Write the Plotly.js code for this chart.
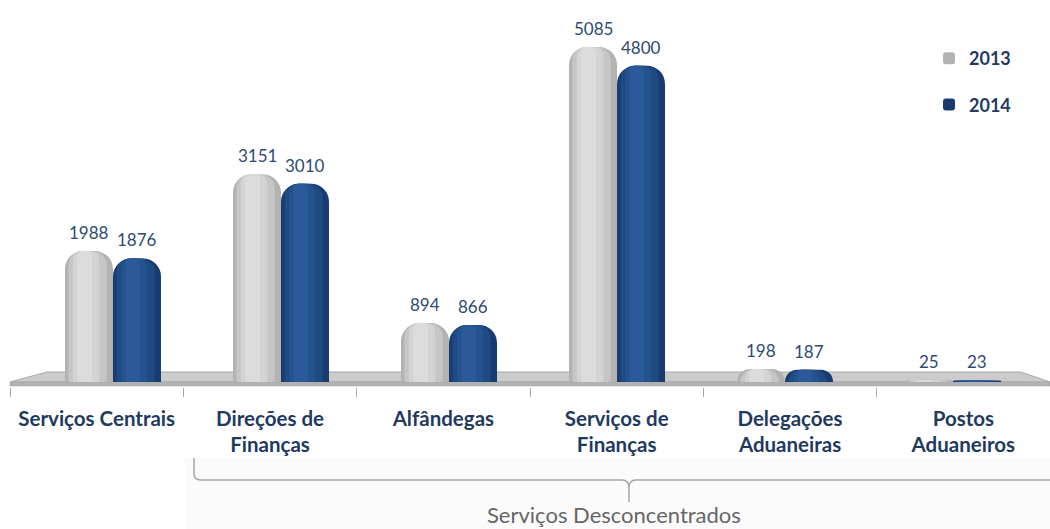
<!DOCTYPE html>
<html>
<head>
<meta charset="utf-8">
<script src="https://cdn.plot.ly/plotly-3.0.1.min.js"></script>
<style>html,body{margin:0;padding:0;background:#fff;}#chart{width:1050px;height:529px;}</style>
</head>
<body>
<div id="chart"></div>
<script>
// ---- data ----
const categories = ["Serviços Centrais", "Direções de Finanças", "Alfândegas", "Serviços de Finanças", "Delegações Aduaneiras", "Postos Aduaneiros"];
const tickLabels = ["Serviços Centrais", "Direções de<br>Finanças", "Alfândegas", "Serviços de<br>Finanças", "Delegações<br>Aduaneiras", "Postos<br>Aduaneiros"];
const series2013 = [1988, 3151, 894, 5085, 198, 25];
const series2014 = [1876, 3010, 866, 4800, 187, 23];
const seriesNames = ["2013", "2014"];
const groupLabel = "Serviços Desconcentrados";

// ---- styling ----
const FONT = "Lato, 'Open Sans', sans-serif";
const NAVY = "#1f3a60";
const BW = 0.2857; // bar width in category units
const shades2013 = ["#b2b2b2", "#c6c6c6", "#d4d4d4", "#dcdcdc"];
const shades2014 = ["#183c6e", "#1f4a84", "#24528f", "#2a5a99"];

function cylinderTraces(values, name, offset, shades, showLeg) {
  const fr = [1, 0.8, 0.55, 0.3];
  const rad = [18, 14, 9, 5];
  return fr.map((f, k) => ({
    type: "bar",
    x: categories,
    y: values,
    xaxis: "x2",
    yaxis: "y",
    name: name,
    legendgroup: name,
    showlegend: showLeg && k === 0,
    offset: offset + BW * (1 - f) / 2 - BW * 0.03 * k,
    width: BW * f,
    marker: {color: shades[k], cornerradius: rad[k], line: {width: 0}},
    hoverinfo: "skip"
  }));
}

// invisible carrier so the category label axis is drawn
const labelCarrier = {
  type: "scatter", x: categories.map((c, i) => i), y: categories.map(() => 0),
  xaxis: "x", yaxis: "y", mode: "markers", marker: {opacity: 0, size: 1},
  showlegend: false, hoverinfo: "skip"
};

const traces = [
  labelCarrier,
  ...cylinderTraces(series2013, seriesNames[0], -BW, shades2013, true),
  ...cylinderTraces(series2014, seriesNames[1], 0, shades2014, true)
];

const valueAnnots = [];
categories.forEach((c, i) => {
  valueAnnots.push({xref: "x2", yref: "y", x: c, y: series2013[i], xshift: -BW * 168 / 2,
    text: String(series2013[i]), showarrow: false, yanchor: "bottom", yshift: 6,
    font: {family: FONT, size: 17, color: "#2e4a72"}});
  valueAnnots.push({xref: "x2", yref: "y", x: c, y: series2014[i], xshift: BW * 168 / 2,
    text: String(series2014[i]), showarrow: false, yanchor: "bottom", yshift: 6,
    font: {family: FONT, size: 17, color: "#2e4a72"}});
});

// paper helpers (plot area: x 10..1050, y 10..387 px)
const px = p => (p - 10) / 1040;
const py = p => (387 - p) / 377;

const shapes = [
  {type: "rect", xref: "paper", yref: "paper", x0: px(185), x1: px(1050), y0: py(458), y1: py(529),
    fillcolor: "#fbfbfb", line: {width: 0}, layer: "below"},
  {type: "path", xref: "paper", yref: "paper", layer: "below",
    path: `M ${px(47)} ${py(372)} L ${px(1021)} ${py(372)} L ${px(1050)} ${py(382)} L ${px(10)} ${py(382)} Z`,
    fillcolor: "#cbcbcb", line: {color: "#a9a9a9", width: 1}},
  {type: "rect", xref: "paper", yref: "paper", layer: "below",
    x0: px(10), x1: px(1050), y0: py(386), y1: py(382),
    fillcolor: "#b3b3b3", line: {color: "#a0a0a0", width: 0.5}},
  {type: "path", xref: "paper", yref: "paper",
    path: `M ${px(194)} ${py(458)} L ${px(194)} ${py(474)} Q ${px(194)} ${py(480)} ${px(201)} ${py(480)} ` +
          `L ${px(622)} ${py(480)} Q ${px(629)} ${py(480)} ${px(629)} ${py(488)} L ${px(629)} ${py(502)} ` +
          `M ${px(629)} ${py(488)} Q ${px(629)} ${py(480)} ${px(636)} ${py(480)} L ${px(1050)} ${py(480)}`,
    line: {color: "#a6a6a6", width: 1.5}}
];

const layout = {
  width: 1050, height: 529,
  margin: {l: 10, r: 0, t: 10, b: 142},
  paper_bgcolor: "#ffffff", plot_bgcolor: "rgba(0,0,0,0)",
  barmode: "overlay",
  showlegend: true,
  legend: {x: px(929), y: py(40), xanchor: "left", yanchor: "top",
    font: {family: FONT, size: 18, color: NAVY, weight: "bold"},
    tracegroupgap: 20, itemwidth: 30, bgcolor: "rgba(0,0,0,0)"},
  xaxis: {
    anchor: "free", position: 0, range: [-0.5, 5.5], type: "linear",
    tickmode: "array", tickvals: categories.map((c, i) => i), ticktext: tickLabels,
    ticks: "", showgrid: false, zeroline: false, showline: false,
    tickfont: {family: FONT, size: 20.5, color: NAVY, weight: "bold"},
    ticklabelstandoff: 17,
    minor: {tickmode: "linear", tick0: -0.5, dtick: 1, ticks: "outside", ticklen: 9,
      tickcolor: "#a6a6a6", tickwidth: 1, showgrid: false}
  },
  xaxis2: {
    overlaying: "x", anchor: "y", type: "category", categoryarray: categories,
    range: [-0.613, 5.577], showticklabels: false, ticks: "", showgrid: false,
    zeroline: false, showline: false
  },
  yaxis: {
    domain: [py(382), 1], range: [0, 5647], visible: false, showgrid: false, zeroline: false
  },
  shapes: shapes,
  annotations: [
    ...valueAnnots,
    {xref: "paper", yref: "paper", x: px(614), y: py(514), text: groupLabel, showarrow: false,
      xanchor: "center", yanchor: "middle", font: {family: FONT, size: 22, color: "#666666"}}
  ]
};

Plotly.newPlot("chart", traces, layout, {staticPlot: true, displayModeBar: false});
</script>
</body>
</html>
